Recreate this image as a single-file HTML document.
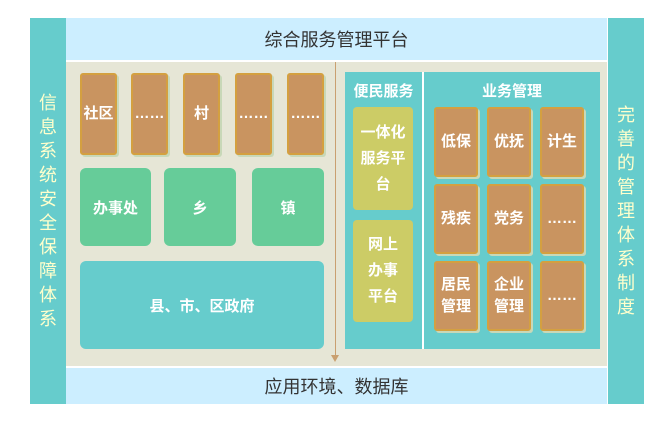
<!DOCTYPE html>
<html><head><meta charset="utf-8"><style>
*{margin:0;padding:0;box-sizing:border-box}
body{width:665px;height:426px;background:#fff;position:relative;font-family:"Liberation Sans","Noto Sans CJK SC",sans-serif;overflow:hidden}
.a{position:absolute}
.side{background:#66cccc;color:#ffffcc;font-size:18px;display:flex;flex-direction:column;align-items:center;justify-content:center;line-height:24px}
.bar{background:#cceeff;color:#333;font-size:18px;display:flex;align-items:center;justify-content:center}
.or{background:#c99460;border:2px solid #d4a040;border-radius:3px;color:#fff;font-weight:bold;font-size:15px;display:flex;align-items:center;justify-content:center;text-align:center;box-shadow:2px 2px 0 #c8d8b8;line-height:22px}
.gr{background:#66cc99;border-radius:6px;color:#fff;font-weight:bold;font-size:15px;display:flex;align-items:center;justify-content:center}
.ye{background:#cccc66;border-radius:4px;color:#fff;font-weight:bold;font-size:15px;display:flex;align-items:center;justify-content:center;text-align:center;line-height:26px}
.h{color:#fff;font-weight:bold;font-size:15px;text-align:center}
</style></head><body>
<div class="a side" style="left:30px;top:18px;width:36px;height:386px">信<br>息<br>系<br>统<br>安<br>全<br>保<br>障<br>体<br>系</div>
<div class="a side" style="left:608px;top:18px;width:36px;height:386px">完<br>善<br>的<br>管<br>理<br>体<br>系<br>制<br>度</div>
<div class="a bar" style="left:66px;top:18px;width:541px;height:42px">综合服务管理平台</div>
<div class="a bar" style="left:66px;top:368px;width:541px;height:36px">应用环境、数据库</div>
<div class="a" style="left:66px;top:62px;width:541px;height:304px;background:#e6e6d6"></div>
<div class="a" style="left:335px;top:62px;width:1px;height:295px;background:#c9a070"></div>
<div class="a" style="left:331px;top:355px;width:0;height:0;border-left:4px solid transparent;border-right:4px solid transparent;border-top:7px solid #c9a070"></div>
<div class="a or" style="left:80px;top:73px;width:37px;height:82px">社区</div>
<div class="a or" style="left:131px;top:73px;width:37px;height:82px">……</div>
<div class="a or" style="left:183px;top:73px;width:37px;height:82px">村</div>
<div class="a or" style="left:235px;top:73px;width:37px;height:82px">……</div>
<div class="a or" style="left:287px;top:73px;width:37px;height:82px">……</div>
<div class="a gr" style="left:80px;top:168px;width:71px;height:78px">办事处</div>
<div class="a gr" style="left:164px;top:168px;width:72px;height:78px">乡</div>
<div class="a gr" style="left:252px;top:168px;width:72px;height:78px">镇</div>
<div class="a gr" style="left:80px;top:261px;width:244px;height:88px;background:#66cccc">县、市、区政府</div>
<div class="a" style="left:345px;top:72px;width:255px;height:277px;background:#66cccc"></div>
<div class="a" style="left:422px;top:72px;width:2px;height:277px;background:#fff"></div>
<div class="a h" style="left:345px;top:80px;width:77px">便民服务</div>
<div class="a h" style="left:424px;top:80px;width:176px">业务管理</div>
<div class="a ye" style="left:353px;top:107px;width:60px;height:103px">一体化<br>服务平<br>台</div>
<div class="a ye" style="left:353px;top:220px;width:60px;height:102px">网上<br>办事<br>平台</div>
<div class="a or" style="left:434px;top:107px;width:44px;height:70px">低保</div>
<div class="a or" style="left:487px;top:107px;width:44px;height:70px">优抚</div>
<div class="a or" style="left:540px;top:107px;width:44px;height:70px">计生</div>
<div class="a or" style="left:434px;top:184px;width:44px;height:70px">残疾</div>
<div class="a or" style="left:487px;top:184px;width:44px;height:70px">党务</div>
<div class="a or" style="left:540px;top:184px;width:44px;height:70px">……</div>
<div class="a or" style="left:434px;top:261px;width:44px;height:70px">居民<br>管理</div>
<div class="a or" style="left:487px;top:261px;width:44px;height:70px">企业<br>管理</div>
<div class="a or" style="left:540px;top:261px;width:44px;height:70px">……</div>
</body></html>
